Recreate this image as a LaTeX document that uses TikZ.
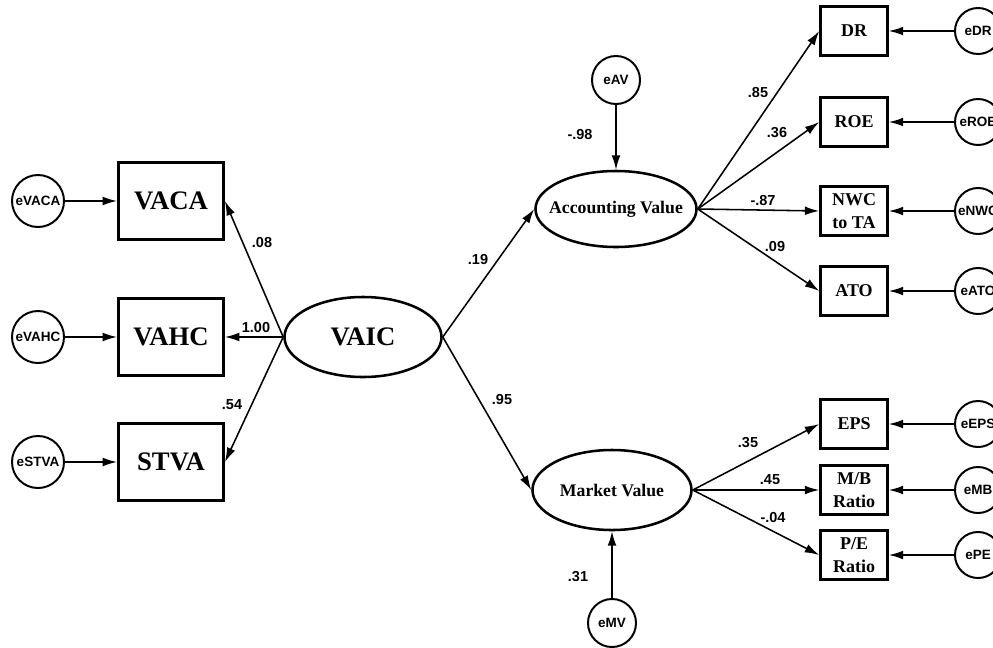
\documentclass[tikz,border=0pt]{standalone}
\usepackage{fontspec}
\setmainfont{Liberation Serif}
\newfontfamily\arialfont{Liberation Sans}
\usetikzlibrary{shapes.geometric, arrows.meta}

\begin{document}
\begin{tikzpicture}[x=0.025cm, y=-0.025cm,
    obs/.style ={rectangle, draw, line width=2pt,
                 minimum width=2.625cm, minimum height=1.925cm,
                 inner sep=0pt, font=\fontsize{19}{22}\selectfont\bfseries},
    ind/.style ={rectangle, draw, line width=1.8pt,
                 minimum width=1.675cm, minimum height=1.225cm,
                 inner sep=0pt, align=center,
                 font=\fontsize{12.8}{16}\selectfont\bfseries},
    lat/.style ={ellipse, draw, line width=1.8pt,
                 minimum width=4cm, minimum height=1.95cm,
                 inner sep=0pt, font=\fontsize{12.6}{15}\selectfont\bfseries},
    err/.style ={circle, draw, line width=1.4pt, minimum size=1.2cm,
                 inner sep=0pt, font=\arialfont\fontsize{9.6}{11}\selectfont\bfseries},
    coef/.style={font=\arialfont\fontsize{10.3}{12}\selectfont\bfseries, inner sep=1pt},
    arrow/.style={-{Latex[length=3.6mm,width=2.2mm]}, line width=1.1pt}
]
\useasboundingbox (0,0) rectangle (993,647);
\clip (0,0) rectangle (993,647);

% ============================================================
% VAIC ET SES COMPOSANTES
% ============================================================

\node[lat, minimum width=3.925cm, minimum height=2cm, inner xsep=-0.1cm,
      font=\fontsize{19}{22}\selectfont\bfseries] (vaic) at (363,337) {VAIC};

\node[obs] (vaca) at (171,201) {VACA};
\node[obs] (vahc) at (171,337) {VAHC};
\node[obs] (stva) at (171,462) {STVA};

\node[err, minimum size=1.3cm] (evaca) at (38,201) {eVACA};
\node[err, minimum size=1.3cm] (evahc) at (38,337) {eVAHC};
\node[err, minimum size=1.3cm] (estva) at (38,462) {eSTVA};

% ============================================================
% VALEUR COMPTABLE / VALEUR DE MARCHE
% ============================================================

\node[lat, minimum width=4.025cm, minimum height=1.9cm, inner xsep=-0.26cm]
     (av) at (616,209) {Accounting Value};
\node[lat, minimum width=3.975cm, minimum height=2cm, inner xsep=-0.05cm]
     (mv) at (612,490) {Market Value};

\node[err] (eav) at (616,80)  {eAV};
\node[err] (emv) at (612,623) {eMV};

% -- indicateurs (droite) --
\node[ind] (dr)  at (854,31)  {DR};
\node[ind] (roe) at (854,122) {ROE};
\node[ind] (nwc) at (854,211) {NWC\\to TA};
\node[ind] (ato) at (854,291) {ATO};
\node[ind] (eps) at (854,424) {EPS};
\node[ind] (mb)  at (854,490) {M/B\\Ratio};
\node[ind] (pe)  at (854,555) {P/E\\Ratio};

\node[err, minimum size=1.15cm] (edr)  at (978,31)  {eDR};
\node[err, minimum size=1.15cm] (eroe) at (978,122) {eROE};
\node[err, minimum size=1.15cm] (enwc) at (978,211) {eNWC};
\node[err, minimum size=1.15cm] (eato) at (978,291) {eATO};
\node[err, minimum size=1.15cm] (eeps) at (978,424) {eEPS};
\node[err, minimum size=1.15cm] (emb)  at (978,490) {eMB};
\node[err, minimum size=1.15cm] (epe)  at (978,555) {ePE};

% ============================================================
% FLECHES
% ============================================================

% erreurs -> composantes
\draw[arrow] (evaca) -- (vaca);
\draw[arrow] (evahc) -- (vahc);
\draw[arrow] (estva) -- (stva);

% VAIC -> composantes
\draw[arrow] (vaic.west) -- (vaca.east);
\draw[arrow] (vaic.west) -- (vahc.east);
\draw[arrow] (vaic.west) -- (stva.east);

% VAIC -> valeurs
\draw[arrow] (vaic.east) -- (av.west);
\draw[arrow] (vaic.east) -- (mv.west);
\draw[arrow] (eav) -- (av);
\draw[arrow] (emv) -- (mv);

% valeurs -> indicateurs
\draw[arrow] (av.east) -- (dr.west);
\draw[arrow] (av.east) -- (roe.west);
\draw[arrow] (av.east) -- (nwc.west);
\draw[arrow] (av.east) -- (ato.west);
\draw[arrow] (mv.east) -- (eps.west);
\draw[arrow] (mv.east) -- (mb.west);
\draw[arrow] (mv.east) -- (pe.west);

% erreurs -> indicateurs
\foreach \e/\i in {edr/dr, eroe/roe, enwc/nwc, eato/ato, eeps/eps, emb/mb, epe/pe}
  \draw[arrow] (\e) -- (\i);

% ============================================================
% COEFFICIENTS
% ============================================================

\node[coef] (c1)  at (262,243) {.08};
\node[coef] (c2)  at (256,328) {1.00};
\node[coef] (c3)  at (232,405) {.54};
\node[coef] (c4)  at (478,260) {.19};
\node[coef] (c5)  at (502,400) {.95};
\node[coef] (c6)  at (580,135) {-.98};
\node[coef] (c7)  at (578,577) {.31};
\node[coef] (c8)  at (758,93)  {.85};
\node[coef] (c9)  at (777,133) {.36};
\node[coef] (c10) at (763,201) {-.87};
\node[coef] (c11) at (775,247) {.09};
\node[coef] (c12) at (748,443) {.35};
\node[coef] (c13) at (770,480) {.45};
\node[coef] (c14) at (773,518) {-.04};

\end{tikzpicture}
\end{document}
